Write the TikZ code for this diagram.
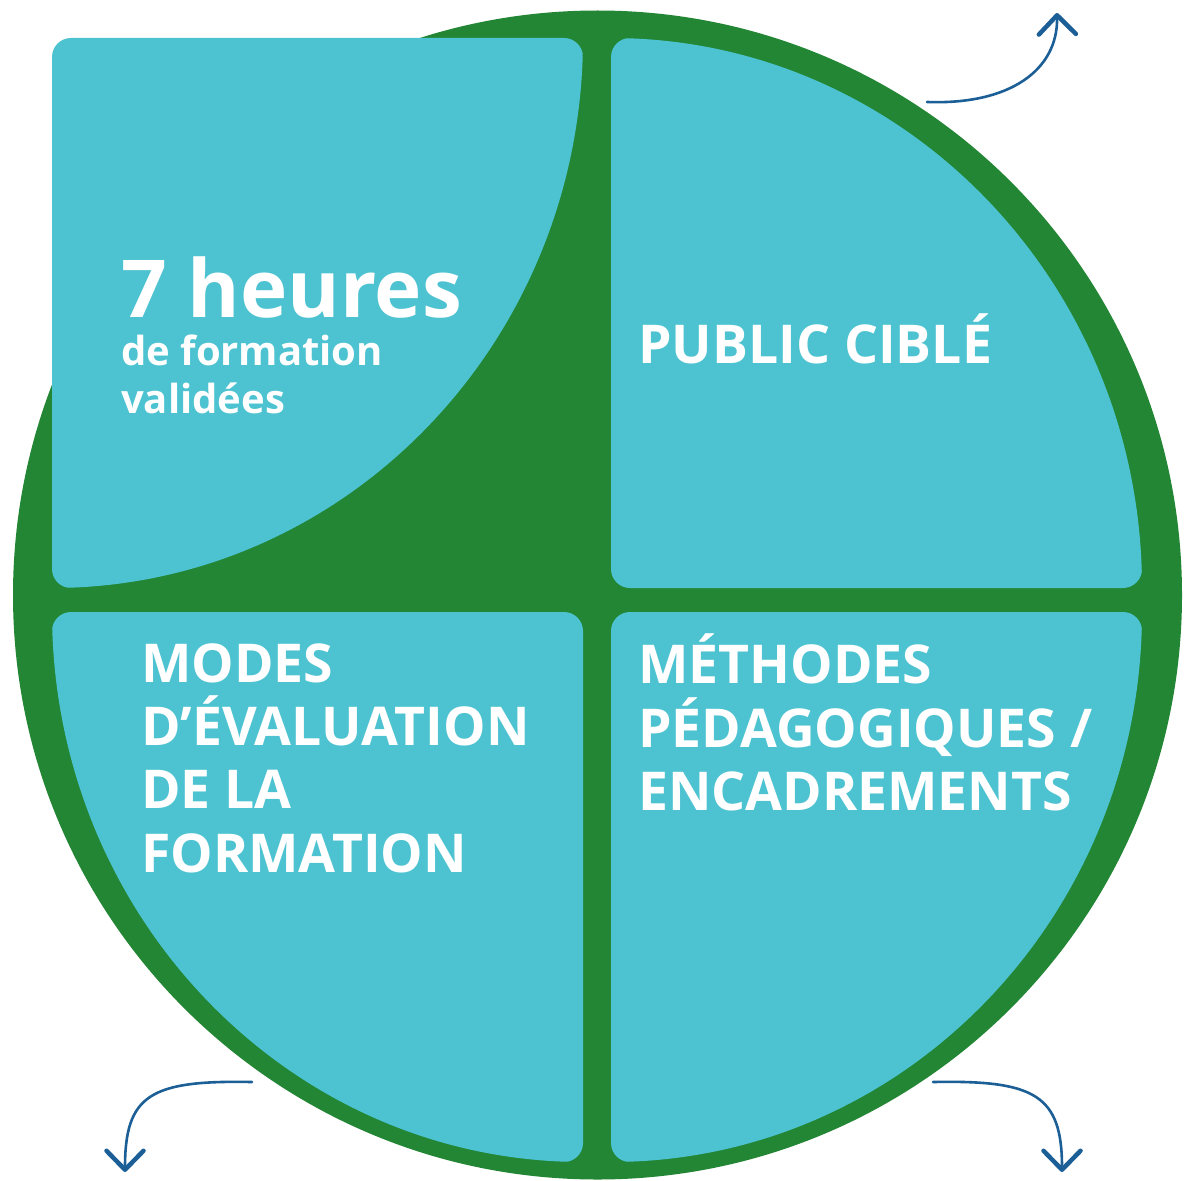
\documentclass[tikz,border=0pt]{standalone}
\usepackage{fontspec}
\setmainfont{Open Sans}
\usetikzlibrary{arrows.meta}
\definecolor{ringgreen}{RGB}{35,134,52}
\definecolor{quadblue}{RGB}{77,195,209}
\definecolor{arrowblue}{RGB}{28,94,150}
\begin{document}
\begin{tikzpicture}[x=1pt,y=-1pt,
  quad/.style={fill=quadblue, rounded corners=19pt},
  bigtxt/.style={anchor=base west, inner sep=0pt, text=white, font=\bfseries\fontsize{53.5}{60}\selectfont},
  heurtxt/.style={anchor=base west, inner sep=0pt, text depth=0pt, text=white, font=\bfseries\fontsize{80}{88}\selectfont},
  smalltxt/.style={anchor=base west, inner sep=0pt, text height=30pt, text=white, font=\bfseries\fontsize{40}{46}\selectfont},
  flowarrow/.style={draw=arrowblue, line width=2.6pt, line cap=round,
    -{Straight Barb[length=19pt,width=37pt,line width=4.5pt,round]}}]
\useasboundingbox (0,0) rectangle (1185,1180);
% ring
\fill[ringgreen] (597.5,595) circle[radius=584.5pt];
% quadrants
\begin{scope}
  \clip (52,38) ellipse[x radius=531pt, y radius=550pt];
  \path[quad] (52,38) rectangle (583,588);
\end{scope}
\begin{scope}
  \clip (611,588) ellipse[x radius=531pt, y radius=550pt];
  \path[quad] (611,38) rectangle (1142,588);
\end{scope}
\begin{scope}
  \clip (583,612) ellipse[x radius=531pt, y radius=550pt];
  \path[quad] (52,612) rectangle (583,1162);
\end{scope}
\begin{scope}
  \clip (611,612) ellipse[x radius=531pt, y radius=550pt];
  \path[quad] (611,612) rectangle (1142,1162);
\end{scope}
% texts
\node[heurtxt] (h1) at (121,317) {7 heures};
\node[smalltxt] (h2) at (121,365) {de formation};
\node[smalltxt] (h3) at (121,413) {validées};
\node[bigtxt] (p1) at (638,363) {PUBLIC CIBLÉ};
\node[bigtxt] (m1) at (141,682) {MODES};
\node[bigtxt] (m2) at (141,745) {D’ÉVALUATION};
\node[bigtxt] (m3) at (141,808) {DE LA};
\node[bigtxt] (m4) at (141,872) {FORMATION};
\node[bigtxt] (e1) at (638,683) {MÉTHODES};
\node[bigtxt] (e2) at (638,747) {PÉDAGOGIQUES /};
\node[bigtxt] (e3) at (638,810) {ENCADREMENTS};
% arrows
\coordinate (a1s) at (927,102);
\coordinate (a1e) at (1057,13);
\coordinate (a2s) at (252,1082);
\coordinate (a2e) at (125,1172);
\coordinate (a3s) at (933,1082);
\coordinate (a3e) at (1062,1172);
\draw[flowarrow] (a1s) .. controls (1010,105) and (1058,70) .. (a1e);
\draw[flowarrow] (a2s) .. controls (150,1080) and (125,1095) .. (a2e);
\draw[flowarrow] (a3s) .. controls (1035,1080) and (1062,1095) .. (a3e);
\end{tikzpicture}
\end{document}
